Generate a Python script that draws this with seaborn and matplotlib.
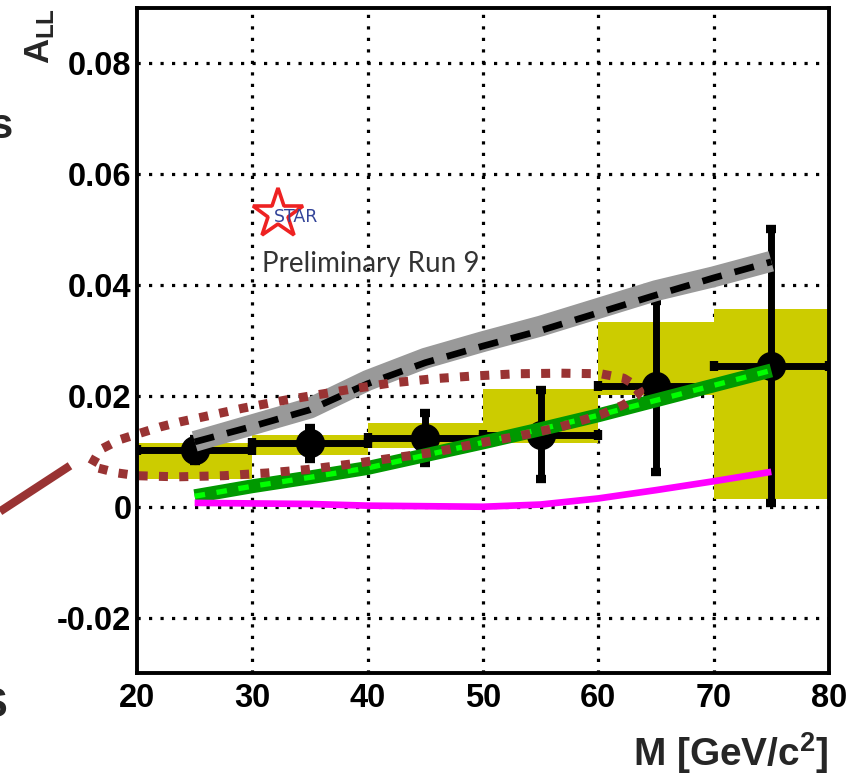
import numpy as np
import pandas as pd
import matplotlib
matplotlib.use("Agg")
import matplotlib.pyplot as plt
from matplotlib.ticker import MultipleLocator, FixedLocator, FixedFormatter
import seaborn as sns

# ---------------- data ----------------
bin_centers = [25, 35, 45, 55, 65, 75]
bin_halfwidth = [5, 5, 5, 5, 5, 5]
all_values = [0.0103, 0.0115, 0.0124, 0.0130, 0.0217, 0.0254]
all_stat_err = [0.0020, 0.0028, 0.0045, 0.0080, 0.0154, 0.0247]
sys_low = [0.0050, 0.0094, 0.0106, 0.0115, 0.0202, 0.0014]
sys_high = [0.0115, 0.0130, 0.0151, 0.0212, 0.0334, 0.0357]

theory_x = [25, 30, 35, 40, 45, 50, 55, 60, 65, 70, 75]
gray_band = [0.0118, 0.0148, 0.0178, 0.0228, 0.0268, 0.0298, 0.0326, 0.0358, 0.0390, 0.0415, 0.0443]
black_dashed = [0.0117, 0.0145, 0.0175, 0.0222, 0.0260, 0.0290, 0.0318, 0.0350, 0.0382, 0.0413, 0.0442]
green_band = [0.0019, 0.0037, 0.0053, 0.0070, 0.0093, 0.0116, 0.0140, 0.0165, 0.0192, 0.0219, 0.0246]
magenta = [0.0007, 0.0006, 0.0005, 0.0002, 0.0001, 0.0000, 0.0004, 0.0015, 0.0030, 0.0046, 0.0063]

contour_x = [16.07, 16.8, 18.5, 20.3, 22.0, 23.7, 25.7, 29.2, 33.0, 36.5, 38.5, 41.9, 45.7, 49.2,
             53.0, 56.7, 60.2, 62.2, 63.3, 63.6,
             63.3, 62.2, 60.2, 56.7, 53.2, 49.7, 46.0, 42.2, 38.5, 34.7, 31.3, 27.5, 23.5, 20.0,
             18.3, 16.6, 16.07]
contour_y = [0.0076, 0.0103, 0.0121, 0.0133, 0.0144, 0.0153, 0.0162, 0.0178, 0.0193, 0.0205, 0.0212,
             0.0223, 0.0231, 0.0236, 0.0240, 0.0241, 0.0240, 0.0232, 0.0218, 0.0208,
             0.0200, 0.0184, 0.0166, 0.0144, 0.0128, 0.0115, 0.0099, 0.0088, 0.0077, 0.0067,
             0.0061, 0.0056, 0.0054, 0.0056, 0.0061, 0.0070, 0.0076]

pointer_x = [8.12, 14.19]
pointer_y = [-0.00085, 0.0074]

xticks = [20, 30, 40, 50, 60, 70, 80]
xtick_labels = ["20", "30", "40", "50", "60", "70", "80"]
yticks = [-0.02, 0.0, 0.02, 0.04, 0.06, 0.08]
ytick_labels = ["-0.02", "0", "0.02", "0.04", "0.06", "0.08"]

# ---------------- style ----------------
sns.set_style("white")
plt.rcParams["font.family"] = ["Liberation Sans", "DejaVu Sans"]
plt.rcParams["font.weight"] = "bold"
plt.rcParams["axes.unicode_minus"] = False
plt.rcParams["mathtext.fontset"] = "custom"
plt.rcParams["mathtext.rm"] = "Liberation Sans:bold"
plt.rcParams["mathtext.bf"] = "Liberation Sans:bold"
plt.rcParams["mathtext.it"] = "Liberation Sans:bold"

fig = plt.figure(figsize=(8.56, 7.76), dpi=100)
ax = fig.add_axes([137 / 856, 1 - 673 / 776, 692 / 856, 665 / 776])

ax.set_xlim(20, 80)
ax.set_ylim(-0.03, 0.09)

# grid
for xv in xticks[1:-1]:
    ax.axvline(xv, color="black", linewidth=2.3, linestyle=(0, (1, 2.6)), zorder=0.5)
for yv in yticks:
    ax.axhline(yv, color="black", linewidth=2.3, linestyle=(0, (1, 2.6)), zorder=0.5)

# systematic boxes
ax.bar(bin_centers, np.array(sys_high) - np.array(sys_low), bottom=sys_low,
       width=10, color="#cccc00", edgecolor="none", zorder=1)

# data points
ax.errorbar(bin_centers, all_values, xerr=bin_halfwidth, yerr=all_stat_err,
            fmt="o", color="black", ms=20, elinewidth=5.0, capsize=3.8, capthick=6.0,
            zorder=2)

# theory curves
df = pd.DataFrame({"M": theory_x, "gray": gray_band, "black": black_dashed,
                   "green": green_band, "magenta": magenta})
sns.lineplot(data=df, x="M", y="gray", ax=ax, color="#999999", linewidth=15, zorder=3,
             solid_capstyle="butt")
sns.lineplot(data=df, x="M", y="black", ax=ax, color="black", linewidth=4.8, zorder=4,
             linestyle=(0, (3.0, 2.0)))
sns.lineplot(data=df, x="M", y="green", ax=ax, color="#009900", linewidth=10, zorder=5,
             solid_capstyle="butt")
sns.lineplot(data=df, x="M", y="green", ax=ax, color="#00ff00", linewidth=3.8, zorder=6,
             linestyle=(0, (2.0, 2.2)))
sns.lineplot(data=df, x="M", y="magenta", ax=ax, color="#ff00ff", linewidth=4.8, zorder=7,
             solid_capstyle="butt")

cdf = pd.DataFrame({"M": contour_x, "A": contour_y})
sns.lineplot(data=cdf, x="M", y="A", ax=ax, sort=False, estimator=None, color="#993333",
             linewidth=6.5, linestyle=(0, (1, 1.25)), dash_capstyle="butt", zorder=8,
             clip_on=False)
ax.plot(pointer_x, pointer_y, color="#993333", linewidth=6.0, clip_on=False, zorder=8,
        solid_capstyle="butt")

# STAR logo and label
ax.plot([32.23], [0.0528], marker="*", ms=38, mfc="none", mec="#ee2222", mew=2.6,
        zorder=9, linestyle="none")
ax.text(33.75, 0.05235, "STAR", color="#334499", fontsize=12.5, fontweight="normal",
        family=["DejaVu Sans"], ha="center", va="center", zorder=10)
ax.text(30.84, 0.0424, "Preliminary Run 9", color="#333333", fontsize=20,
        fontweight="normal", family=["Lato", "DejaVu Sans"], ha="left", va="baseline",
        zorder=10)

# axes styling
for sp in ax.spines.values():
    sp.set_linewidth(2.8)
    sp.set_color("black")
    sp.set_zorder(20)

ax.xaxis.set_major_locator(FixedLocator(xticks))
ax.xaxis.set_major_formatter(FixedFormatter(xtick_labels))
ax.yaxis.set_major_locator(FixedLocator(yticks))
ax.yaxis.set_major_formatter(FixedFormatter(ytick_labels))
ax.xaxis.set_minor_locator(MultipleLocator(2))
ax.yaxis.set_minor_locator(MultipleLocator(0.005))
ax.tick_params(which="both", direction="in", top=False, right=False, color="black",
               width=2.6, labelsize=23.5, labelcolor="black")
ax.tick_params(axis="x", which="major", length=14, pad=7)
ax.tick_params(axis="x", which="minor", length=7)
ax.tick_params(axis="y", which="major", length=9, pad=4)
ax.tick_params(axis="y", which="minor", length=8)
for lab in ax.get_xticklabels() + ax.get_yticklabels():
    lab.set_fontweight("bold")

ax.set_xlabel("")
ax.set_ylabel("")
ax.text(1.0, (673 - 766) / 665, r"M [GeV/c$^{2}$]", transform=ax.transAxes,
        ha="right", va="baseline", fontsize=28, fontweight="bold")
ax.text((40 - 137) / 692, 1.0, r"$A_{LL}$", transform=ax.transAxes, rotation=90,
        ha="center", va="top", fontsize=25, fontweight="bold")

# cropped neighbouring letters at the left edge (partially outside the frame, as in the source)
fig.text(-0.012, 1 - 138 / 776, "s", fontsize=30, fontweight="bold", ha="left",
         va="baseline")
fig.text(-0.024, 1 - 717 / 776, "S", fontsize=30, fontweight="bold", ha="left",
         va="baseline")

fig.savefig("out.png", dpi=100)
